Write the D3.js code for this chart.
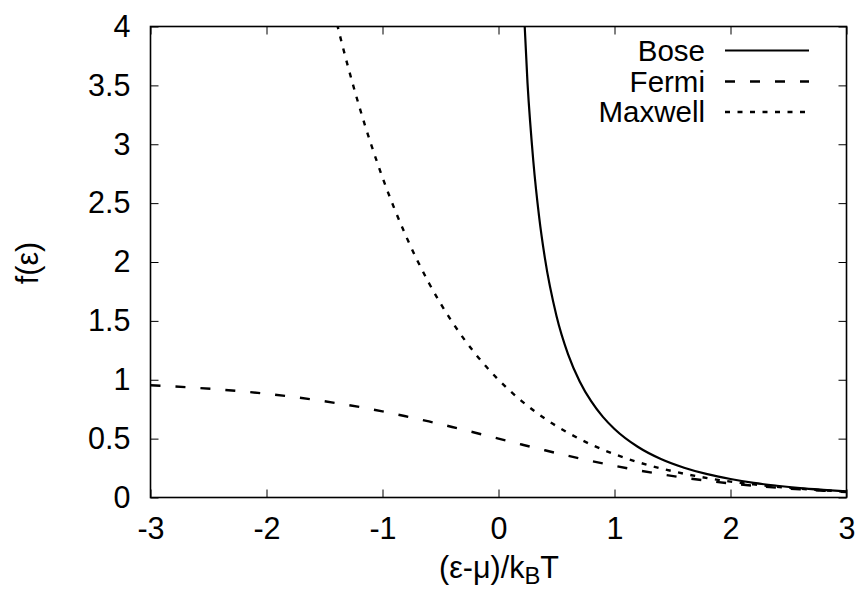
<!DOCTYPE html>
<html>
<head>
<meta charset="utf-8">
<script src="https://cdn.jsdelivr.net/npm/d3@7"></script>
<style>
  html, body { margin: 0; padding: 0; background: #fff; }
  svg { display: block; }
  text { font-family: "Liberation Sans", Arial, Helvetica, sans-serif; fill: #000; }
</style>
</head>
<body>
<svg id="chart" width="861" height="591"></svg>
<script>
// ---- data ----
const xTicks = [-3, -2, -1, 0, 1, 2, 3];
const yTicks = [0, 0.5, 1, 1.5, 2, 2.5, 3, 3.5, 4];
const xTickLabels = ["-3", "-2", "-1", "0", "1", "2", "3"];
const yTickLabels = ["0", "0.5", "1", "1.5", "2", "2.5", "3", "3.5", "4"];

const seriesNames = ["Bose", "Fermi", "Maxwell"];

const boseX = [0.2, 0.25, 0.3, 0.35, 0.4, 0.5, 0.6, 0.7, 0.8, 0.9, 1.0, 1.2, 1.4, 1.6, 1.8, 2.0, 2.2, 2.4, 2.6, 2.8, 3.0];
const boseY = [4.517, 3.521, 2.858, 2.386, 2.033, 1.542, 1.216, 0.986, 0.816, 0.685, 0.582, 0.431, 0.327, 0.253, 0.198, 0.157, 0.124, 0.100, 0.080, 0.065, 0.052];

const fermiX = [-3.0, -2.8, -2.6, -2.4, -2.2, -2.0, -1.8, -1.6, -1.4, -1.2, -1.0, -0.8, -0.6, -0.4, -0.2, 0.0, 0.2, 0.4, 0.6, 0.8, 1.0, 1.2, 1.4, 1.6, 1.8, 2.0, 2.2, 2.4, 2.6, 2.8, 3.0];
const fermiY = [0.953, 0.943, 0.931, 0.917, 0.900, 0.881, 0.858, 0.832, 0.802, 0.769, 0.731, 0.690, 0.646, 0.599, 0.550, 0.500, 0.450, 0.401, 0.354, 0.310, 0.269, 0.232, 0.198, 0.168, 0.142, 0.119, 0.100, 0.083, 0.069, 0.057, 0.047];

const maxwellX = [-1.6, -1.4, -1.2, -1.0, -0.8, -0.6, -0.4, -0.2, 0.0, 0.2, 0.4, 0.6, 0.8, 1.0, 1.2, 1.4, 1.6, 1.8, 2.0, 2.2, 2.4, 2.6, 2.8, 3.0];
const maxwellY = [4.953, 4.055, 3.320, 2.718, 2.226, 1.822, 1.492, 1.221, 1.000, 0.819, 0.670, 0.549, 0.449, 0.368, 0.301, 0.247, 0.202, 0.165, 0.135, 0.111, 0.091, 0.074, 0.061, 0.050];

// ---- layout ----
const svg = d3.select("#chart");
const L = 150.5, R = 846.5, T = 26.5, B = 497.5;
const x = d3.scaleLinear().domain([-3, 3]).range([L, R]);
const y = d3.scaleLinear().domain([0, 4]).range([B, T]);
const FS = 30.5;
const LFS = 29.5;

svg.append("rect").attr("width", 861).attr("height", 591).attr("fill", "#fff");

svg.append("defs").append("clipPath").attr("id", "plotclip")
  .append("rect").attr("x", L).attr("y", T).attr("width", R - L).attr("height", B - T);

// axes with inward ticks (mirrored)
const tickLen = 8;
const axB = d3.axisBottom(x).tickValues(xTicks).tickSize(-tickLen).tickPadding(20)
  .tickFormat((d, i) => xTickLabels[i]);
const axT = d3.axisTop(x).tickValues(xTicks).tickSize(-tickLen).tickFormat("");
const axL = d3.axisLeft(y).tickValues(yTicks).tickSize(-tickLen).tickPadding(20)
  .tickFormat((d, i) => yTickLabels[i]);
const axR = d3.axisRight(y).tickValues(yTicks).tickSize(-tickLen).tickFormat("");

function styleAxis(g) {
  g.select(".domain").remove();
  g.selectAll(".tick line").attr("stroke", "#000").attr("stroke-width", 1);
  g.selectAll(".tick text").attr("font-size", FS)
    .attr("font-family", "'Liberation Sans', Arial, Helvetica, sans-serif").attr("fill", "#000");
}
svg.append("g").attr("transform", `translate(0,${B})`).call(axB).call(styleAxis);
svg.append("g").attr("transform", `translate(0,${T})`).call(axT).call(styleAxis);
svg.append("g").attr("transform", `translate(${L},0)`).call(axL).call(styleAxis);
svg.append("g").attr("transform", `translate(${R},0)`).call(axR).call(styleAxis);

// curves
const line = d3.line().x(d => x(d[0])).y(d => y(d[1])).curve(d3.curveMonotoneX);
const plot = svg.append("g").attr("clip-path", "url(#plotclip)");
const styles = [
  { dash: null, width: 2.2 },
  { dash: "10,15", width: 2.4 },
  { dash: "5,7.5", width: 2.4 }
];
const seriesData = [
  d3.zip(boseX, boseY),
  d3.zip(fermiX, fermiY),
  d3.zip(maxwellX, maxwellY)
];
seriesData.forEach((data, i) => {
  const p = plot.append("path").datum(data).attr("d", line)
    .attr("fill", "none").attr("stroke", "#000").attr("stroke-width", styles[i].width);
  if (styles[i].dash) p.attr("stroke-dasharray", styles[i].dash);
});

// frame
svg.append("rect").attr("x", L).attr("y", T).attr("width", R - L).attr("height", B - T)
  .attr("fill", "none").attr("stroke", "#000").attr("stroke-width", 1.6);

// legend
const legY = [50.5, 81.5, 112];
seriesNames.forEach((name, i) => {
  svg.append("text").attr("x", 705).attr("y", legY[i]).attr("dy", "0.35em")
    .attr("text-anchor", "end").attr("font-size", LFS).text(name);
  const l = svg.append("line").attr("x1", 725).attr("x2", 809).attr("y1", legY[i]).attr("y2", legY[i])
    .attr("stroke", "#000").attr("stroke-width", styles[i].width);
  if (styles[i].dash) l.attr("stroke-dasharray", styles[i].dash);
});

// axis labels
const xl = svg.append("text").attr("x", 499).attr("y", 578).attr("text-anchor", "middle")
  .attr("font-size", FS);
xl.append("tspan").text("(ε-μ)/k");
xl.append("tspan").attr("font-size", FS * 0.78).attr("dy", 6).text("B");
xl.append("tspan").attr("dy", -6).text("T");

svg.append("text").attr("transform", "translate(27,263) rotate(-90)")
  .attr("text-anchor", "middle").attr("dy", "0.35em").attr("font-size", FS).text("f(ε)");
</script>
</body>
</html>
